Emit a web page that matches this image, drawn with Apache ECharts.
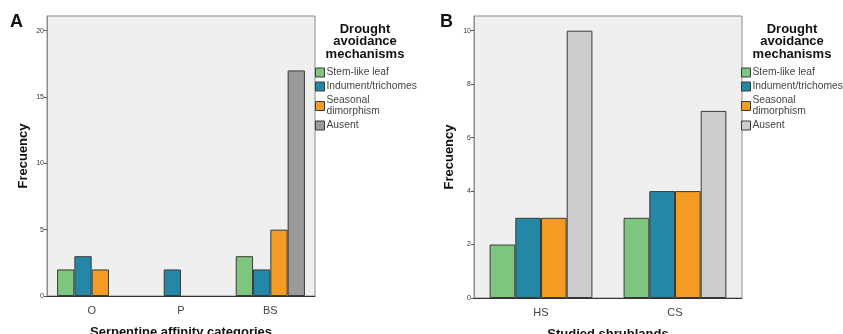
<!DOCTYPE html>
<html>

<head>
    <meta charset="utf-8">
    <script src="https://cdn.jsdelivr.net/npm/echarts@6/dist/echarts.min.js"></script>
</head>

<body style="margin:0;background:#fff;">
    <div id="main" style="width: 843px;height:334px;"></div>
    <script type="text/javascript">
        // data
        var mechanisms = ['Stem-like leaf', 'Indument/trichomes', 'Seasonal dimorphism', 'Ausent'];
        var affinityCats = ['O', 'P', 'BS'];
        var stemA = [2, 0, 3];
        var indumentA = [3, 2, 2];
        var seasonalA = [2, 0, 5];
        var ausentA = [0, 0, 17];
        var shrublands = ['HS', 'CS'];
        var stemB = [2, 3];
        var indumentB = [3, 4];
        var seasonalB = [3, 4];
        var ausentB = [10, 7];

        var colors = ['#7dc67e', '#2487a8', '#f39b22'];
        var grayA = '#9a9a9a', grayB = '#cdcdcd';
        var font = '"Liberation Sans", Arial, sans-serif';

        var chart = echarts.init(document.getElementById('main'));

        function bars(name, data, color, idx, width) {
            return {
                name: name,
                type: 'bar',
                xAxisIndex: idx,
                yAxisIndex: idx,
                // zero counts draw nothing
                data: data.map(function (v) { return v === 0 ? '-' : v; }),
                barWidth: width,
                barGap: '0%',
                itemStyle: { color: color, borderColor: '#3a3a3a', borderWidth: 1 },
                emphasis: { disabled: true }
            };
        }

        function xAx(idx, cats, title) {
            return {
                type: 'category',
                gridIndex: idx,
                data: cats,
                name: title,
                nameLocation: 'middle',
                nameGap: 30,
                nameTextStyle: { fontFamily: font, fontWeight: 'bold', fontSize: 13, color: '#111' },
                axisLine: { lineStyle: { color: '#333', width: 1 } },
                axisTick: { alignWithLabel: true, length: 5, lineStyle: { color: '#333' } },
                axisLabel: { fontFamily: font, fontSize: 11, color: '#444', margin: 9 }
            };
        }

        function yAx(idx, max, interval, gap) {
            return {
                type: 'value',
                gridIndex: idx,
                min: 0,
                max: max,
                interval: interval,
                name: 'Frecuency',
                nameLocation: 'middle',
                nameGap: gap,
                nameTextStyle: { fontFamily: font, fontWeight: 'bold', fontSize: 13, color: '#111' },
                splitLine: { show: false },
                axisLine: { show: true, lineStyle: { color: '#8c8c8c' } },
                axisTick: { show: true, length: 3, lineStyle: { color: '#555' } },
                axisLabel: { fontFamily: font, fontSize: 7, color: '#333', margin: 3, showMaxLabel: false }
            };
        }

        function legendFor(left, lastColor) {
            return {
                orient: 'vertical',
                left: left,
                top: 67,
                padding: 0,
                itemWidth: 9,
                itemHeight: 9,
                itemGap: 3,
                selectedMode: false,
                icon: 'rect',
                data: mechanisms.map(function (m, i) {
                    return {
                        name: m,
                        itemStyle: { color: i < 3 ? colors[i] : lastColor, borderColor: '#3a3a3a', borderWidth: 1 }
                    };
                }),
                formatter: function (name) {
                    return name === 'Seasonal dimorphism' ? 'Seasonal\ndimorphism' : name;
                },
                textStyle: { fontFamily: font, fontSize: 10.3, lineHeight: 11, color: '#444', padding: [0, 0, 0, -3] }
            };
        }

        function heading(x) {
            return {
                type: 'text',
                x: x,
                y: 23,
                style: {
                    text: 'Drought\navoidance\nmechanisms',
                    font: 'bold 13px ' + font,
                    fill: '#111',
                    align: 'center',
                    lineHeight: 12.5
                }
            };
        }

        chart.setOption({
            animation: false,
            grid: [
                { left: 47, top: 16, width: 268, height: 280, outerBoundsMode: 'none', containLabel: false, show: true, backgroundColor: '#efefef', borderColor: '#8c8c8c', borderWidth: 1 },
                { left: 474, top: 16, width: 268, height: 282, outerBoundsMode: 'none', containLabel: false, show: true, backgroundColor: '#efefef', borderColor: '#8c8c8c', borderWidth: 1 }
            ],
            xAxis: [xAx(0, affinityCats, 'Serpentine affinity categories'), xAx(1, shrublands, 'Studied shrublands')],
            yAxis: [yAx(0, 21.1, 5, 17), yAx(1, 10.55, 2, 18)],
            legend: [legendFor(315, grayA), legendFor(741, grayB)],
            graphic: [
                { type: 'text', x: 10, y: 13, style: { text: 'A', font: 'bold 18px ' + font, fill: '#111' } },
                { type: 'text', x: 440, y: 13, style: { text: 'B', font: 'bold 18px ' + font, fill: '#111' } },
                heading(365),
                heading(792)
            ],
            series: [
                bars(mechanisms[0], stemA, colors[0], 0, 17.3),
                bars(mechanisms[1], indumentA, colors[1], 0, 17.3),
                bars(mechanisms[2], seasonalA, colors[2], 0, 17.3),
                bars(mechanisms[3], ausentA, grayA, 0, 17.3),
                bars(mechanisms[0], stemB, colors[0], 1, 25.7),
                bars(mechanisms[1], indumentB, colors[1], 1, 25.7),
                bars(mechanisms[2], seasonalB, colors[2], 1, 25.7),
                bars(mechanisms[3], ausentB, grayB, 1, 25.7)
            ]
        });
    </script>
</body>

</html>
